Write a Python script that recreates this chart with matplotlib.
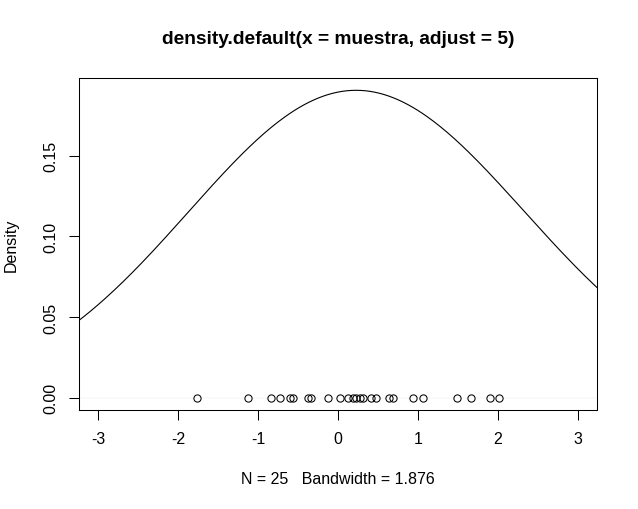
import numpy as np
import matplotlib
matplotlib.use("Agg")
import matplotlib.pyplot as plt

muestra = [-1.77, -1.13, -0.84, -0.72, -0.60, -0.56, -0.37, -0.34, -0.12,
           0.03, 0.12, 0.19, 0.23, 0.27, 0.31, 0.41, 0.48, 0.64, 0.69,
           0.94, 1.06, 1.49, 1.66, 1.90, 2.01]
BANDWIDTH = 1.876
XTICKS = [-3, -2, -1, 0, 1, 2, 3]
YTICKS = [0.00, 0.05, 0.10, 0.15]
TITLE = "density.default(x = muestra, adjust = 5)"
XLABEL = "N = 25   Bandwidth = 1.876"
YLABEL = "Density"

plt.rcParams["font.family"] = ["Liberation Sans", "DejaVu Sans"]

# gaussian kernel density, evaluated like R's density() (cut = 3)
x = np.array(muestra)
grid = np.linspace(x.min() - 3 * BANDWIDTH, x.max() + 3 * BANDWIDTH, 512)
dens = np.exp(-0.5 * ((grid[:, None] - x[None, :]) / BANDWIDTH) ** 2).sum(1)
dens /= len(x) * BANDWIDTH * np.sqrt(2 * np.pi)

fig = plt.figure(figsize=(6.38, 5.10), dpi=100)
ax = fig.add_axes([79 / 638, 1 - 411 / 510, (597 - 79) / 638, (411 - 79) / 510])

ax.axhline(0, color="#bebebe", lw=0.1, zorder=1)
ax.plot(grid, dens, color="black", lw=0.8, zorder=2)
ax.plot(x, np.zeros_like(x), "o", mfc="none", mec="black", ms=5.2, mew=0.75,
        zorder=3)

ax.set_xlim(-3.24, 3.24)
ymax = dens.max()
ax.set_ylim(-0.04 * ymax, 1.04 * ymax)
ax.set_xticks(XTICKS)
ax.set_xticklabels([str(t) for t in XTICKS])
ax.set_yticks(YTICKS)
ax.set_yticklabels(["{:.2f}".format(t) for t in YTICKS], rotation=90,
                   va="center")
ax.tick_params(axis="both", direction="out", length=7, width=0.75,
               labelsize=11.5, pad=8, color="black")
for s in ax.spines.values():
    s.set_linewidth(0.75)

fig.text(0.5 * (79 + 597) / 638, 1 - 40 / 510, TITLE, ha="center",
         va="center", fontsize=13.8, fontweight="bold")
fig.text(0.5 * (79 + 597) / 638, 1 - 480 / 510, XLABEL, ha="center",
         va="center", fontsize=11.5)
fig.text(11 / 638, 1 - 245 / 510, YLABEL, ha="center", va="center",
         rotation=90, fontsize=11.5)

fig.savefig("out.png", dpi=100)
